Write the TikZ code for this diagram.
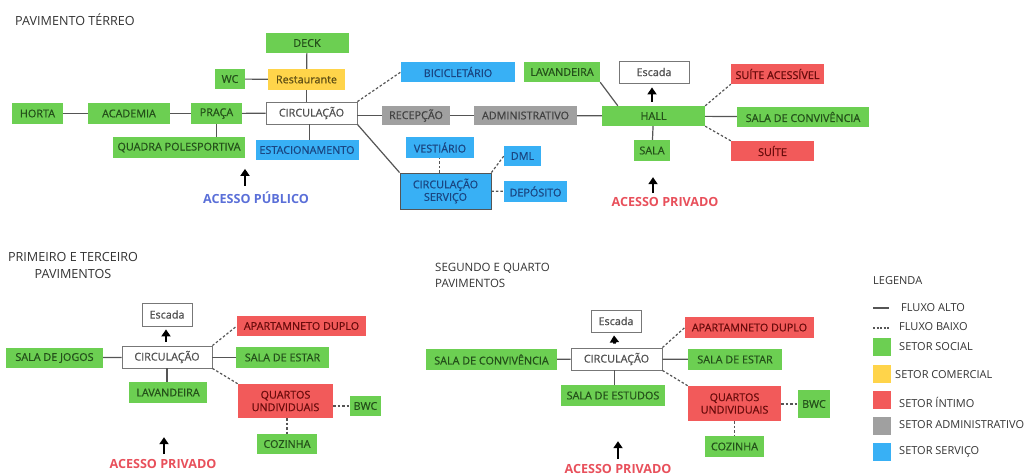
\documentclass[tikz,border=0pt]{standalone}
\usepackage{fontspec}
\setmainfont{Open Sans}
\newfontfamily\boxfont{Open Sans}[FakeBold=0.7]
\usetikzlibrary{arrows.meta}
\definecolor{gfill}{HTML}{6CCF52}
\definecolor{gtext}{HTML}{24501A}
\definecolor{yfill}{HTML}{FFD44A}
\definecolor{ytext}{HTML}{5E4E14}
\definecolor{rfill}{HTML}{F25A5A}
\definecolor{rtext}{HTML}{6A0C0C}
\definecolor{bfill}{HTML}{38B0F5}
\definecolor{btext}{HTML}{1A4682}
\definecolor{afill}{HTML}{A0A0A0}
\definecolor{atext}{HTML}{424242}
\definecolor{wtext}{HTML}{505050}
\definecolor{linec}{HTML}{555555}
\definecolor{pubc}{HTML}{5A6FD8}
\definecolor{privc}{HTML}{E8505B}
\definecolor{headc}{HTML}{333333}
\tikzset{
  box/.style={inner sep=0pt, minimum height=20, font=\boxfont\fontsize{10.8}{12.5}\selectfont, align=center},
  gbox/.style={box, fill=gfill, text=gtext},
  ybox/.style={box, fill=yfill, text=ytext},
  rbox/.style={box, fill=rfill, text=rtext},
  bbox/.style={box, fill=bfill, text=btext},
  abox/.style={box, fill=afill, text=atext},
  wbox/.style={box, fill=white, draw=linec!80, line width=0.8pt, text=wtext},
  hi/.style={draw=linec, line width=1.2pt},
  lo/.style={draw=linec, line width=1.2pt, dash pattern=on 2.5pt off 2pt},
  bigarrow/.style={draw=black, line width=2.8pt, -{Triangle[width=9pt,length=7pt]}},
  head/.style={font=\fontsize{12.6}{16.5}\selectfont, text=headc, inner sep=0pt},
  acc/.style={font=\bfseries\fontsize{12.6}{14}\selectfont, inner sep=0pt},
  leg/.style={font=\fontsize{11}{13}\selectfont, text=headc, inner sep=0pt, anchor=west}
}
\begin{document}
\begin{tikzpicture}[x=1pt,y=-1pt]
\useasboundingbox (0,0) rectangle (1030,475);
% ---------- PAVIMENTO TERREO ----------
\node[head, anchor=west] (h0) at (15,20) {PAVIMENTO TÉRREO};
\node[gbox, minimum width=83] (deck) at (307,43) {DECK};
\node[gbox, minimum width=30] (wc) at (230,79) {WC};
\node[ybox, minimum width=77, minimum height=21] (rest) at (306.5,79.5) {Restaurante};
\node[gbox, minimum width=51, minimum height=21] (horta) at (37.5,113.5) {HORTA};
\node[gbox, minimum width=82, minimum height=21] (acad) at (129,113.5) {ACADEMIA};
\node[gbox, minimum width=51, minimum height=21] (praca) at (216.5,113.5) {PRAÇA};
\node[wbox, minimum width=91, minimum height=22] (circ) at (311.5,113) {CIRCULAÇÃO};
\node[gbox, minimum width=132, minimum height=21] (quadra) at (179,147.5) {QUADRA POLESPORTIVA};
\node[bbox, minimum width=103] (est) at (307,150) {ESTACIONAMENTO};
\node[bbox, minimum width=114] (bici) at (458,72) {BICICLETÁRIO};
\node[gbox, minimum width=76] (lav) at (562,72) {LAVANDEIRA};
\node[abox, minimum width=68, minimum height=19] (recep) at (416,115.5) {RECEPÇÃO};
\node[abox, minimum width=103, minimum height=19] (admin) at (525.5,115.5) {ADMINISTRATIVO};
\node[bbox, minimum width=68, minimum height=21] (vest) at (440,147.5) {VESTIÁRIO};
\node[bbox, minimum width=91, minimum height=36, draw=linec, line width=0.8pt] (cserv) at (445.5,191) {CIRCULAÇÃO\\SERVIÇO};
\node[bbox, minimum width=37] (dml) at (522.5,156) {DML};
\node[bbox, minimum width=63, minimum height=21] (dep) at (535.5,191.5) {DEPÓSITO};
\node[wbox, minimum width=70, minimum height=22] (esc0) at (654,72) {Escada};
\node[gbox, minimum width=103] (hall) at (653.5,116) {HALL};
\node[gbox, minimum width=36, minimum height=21] (sala) at (652,150.5) {SALA};
\node[rbox, minimum width=93] (suitea) at (777.5,74) {SUÍTE ACESSÍVEL};
\node[gbox, minimum width=132] (sconv) at (803,117) {SALA DE CONVIVÊNCIA};
\node[rbox, minimum width=83] (suite) at (772.5,151) {SUÍTE};
\node[acc, text=pubc] (apub) at (256,198) {ACESSO PÚBLICO};
\node[acc, text=privc] (apriv0) at (665,202) {ACESSO PRIVADO};

\draw[hi] (deck) -- (rest);
\draw[hi] (wc) -- (rest);
\draw[hi] (rest.south) -- (rest.south |- circ.north);
\draw[hi] (horta) -- (acad);
\draw[hi] (acad) -- (praca);
\draw[hi] (praca) -- (circ);
\draw[hi] (praca) -- (praca |- quadra.north);
\draw[hi] ([xshift=-2pt]circ.south) -- ([xshift=-2pt]circ.south |- est.north);
\draw[lo] (circ.north east) -- (bici.west);
\draw[hi] (circ.east |- recep) -- (recep);
\draw[hi] (circ.south east) -- (cserv.north west);
\draw[hi] (recep) -- (admin);
\draw[hi] (admin) -- (hall);
\draw[lo] ([xshift=-6pt]cserv.north) -- ([xshift=-6pt]cserv.north |- vest.south);
\draw[lo] (cserv.north east) -- (dml.west);
\draw[lo] (cserv) -- (dep);
\draw[hi] (lav.south east) -- ([xshift=16pt]hall.north west);
\draw[hi] (hall) -- (sala);
\draw[lo] (hall.north east) -- (suitea.south west);
\draw[hi] (hall) -- (sconv);
\draw[lo] (hall.south east) -- (suite.north west);
\draw[bigarrow] ([xshift=-1.5pt,yshift=4pt]hall.north) -- ([xshift=-1.5pt,yshift=-4pt]esc0.south -| hall.north);
\draw[bigarrow] ([xshift=-11pt,yshift=6pt]apub.north) -- ++(0,-17);
\draw[bigarrow] ([xshift=-12pt,yshift=4pt]apriv0.north) -- ++(0,-16);

% ---------- PRIMEIRO E TERCEIRO ----------
\node[head, align=center] (h1) at (73,265.5) {PRIMEIRO E TERCEIRO\\PAVIMENTOS};
\node[wbox, minimum width=50, minimum height=23] (esc1) at (167,314.5) {Escada};
\node[gbox, minimum width=97] (sj1) at (54.5,358) {SALA DE JOGOS};
\node[wbox, minimum width=90, minimum height=22] (circ1) at (167,357) {CIRCULAÇÃO};
\node[gbox, minimum width=78, minimum height=21] (lav1) at (168,392.5) {LAVANDEIRA};
\node[rbox, minimum width=129] (apd1) at (301.5,326) {APARTAMNETO DUPLO};
\node[gbox, minimum width=93, minimum height=21] (se1) at (282.5,357.5) {SALA DE ESTAR};
\node[rbox, minimum width=95, minimum height=34] (q1) at (285.5,401) {QUARTOS\\UNDIVIDUAIS};
\node[gbox, minimum width=31] (bwc1) at (365.5,406) {BWC};
\node[gbox, minimum width=60] (coz1) at (287,444) {COZINHA};
\node[acc, text=privc] (apriv1) at (163,464) {ACESSO PRIVADO};

\draw[hi] (sj1) -- (circ1);
\draw[hi] (circ1.south) -- (circ1.south |- lav1.north);
\draw[hi] (circ1.east |- se1) -- (se1);
\draw[lo] (circ1.north east) -- (apd1.west);
\draw[lo] (circ1.south east) -- (q1.north west);
\draw[lo] (q1.east |- bwc1) -- (bwc1);
\draw[lo] ([xshift=1.5pt]q1.south) -- ([xshift=1.5pt]q1.south |- coz1.north);
\draw[bigarrow] ([xshift=-1pt,yshift=4pt]circ1.north) -- ([xshift=-1pt,yshift=-3pt]esc1.south);
\draw[bigarrow] ([xshift=1pt,yshift=5pt]apriv1.north) -- ++(0,-17);

% ---------- SEGUNDO E QUARTO ----------
\node[head, align=left, anchor=west, font=\fontsize{11.5}{16}\selectfont] (h2) at (435,275) {SEGUNDO E QUARTO\\PAVIMENTOS};
\node[wbox, minimum width=50, minimum height=22] (esc2) at (616,321) {Escada};
\node[gbox, minimum width=131, minimum height=21] (sc2) at (491.5,359.5) {SALA DE CONVIVÊNCIA};
\node[wbox, minimum width=91, minimum height=22] (circ2) at (616.5,359) {CIRCULAÇÃO};
\node[gbox, minimum width=104, minimum height=21] (ses2) at (613,395.5) {SALA DE ESTUDOS};
\node[rbox, minimum width=129, minimum height=21] (apd2) at (749.5,327.5) {APARTAMNETO DUPLO};
\node[gbox, minimum width=94, minimum height=21] (se2) at (735,359.5) {SALA DE ESTAR};
\node[rbox, minimum width=93, minimum height=35] (q2) at (734.5,403.5) {QUARTOS\\UNDIVIDUAIS};
\node[gbox, minimum width=32, minimum height=28] (bwc2) at (814,404) {BWC};
\node[gbox, minimum width=59, minimum height=21] (coz2) at (734.5,446.5) {COZINHA};
\node[acc, text=privc] (apriv2) at (618,469) {ACESSO PRIVADO};

\draw[hi] (sc2) -- (circ2);
\draw[hi] ([xshift=-2pt]circ2.south) -- ([xshift=-2pt]circ2.south |- ses2.north);
\draw[hi] (circ2) -- (se2);
\draw[lo] (circ2.north east) -- (apd2.west);
\draw[lo] (circ2.south east) -- (q2.north west);
\draw[lo] (q2.east |- bwc2) -- (bwc2);
\draw[lo] (q2.south) -- (q2.south |- coz2.north);
\draw[bigarrow] ([xshift=-2pt,yshift=4pt]circ2.north) -- ([xshift=-2pt,yshift=-3pt]esc2.south);
\draw[bigarrow] ([yshift=5pt]apriv2.north) -- ++(0,-18);

% ---------- LEGENDA ----------
\node[leg] (lt) at (873,281) {LEGENDA};
\coordinate (la1) at (873,308);
\coordinate (la2) at (889,308);
\draw[hi, line width=1.2pt] (la1) -- (la2);
\node[leg] (lta) at (901,308) {FLUXO ALTO};
\coordinate (lb1) at (873,328);
\coordinate (lb2) at (889,328);
\draw[lo, line width=1.1pt, dash pattern=on 2pt off 1.5pt] (lb1) -- (lb2);
\node[leg] (ltb) at (899,327) {FLUXO BAIXO};
\node[fill=gfill, minimum size=18, inner sep=0pt] (sq1) at (882,346.5) {};
\node[leg] (lt1) at (899,347) {SETOR SOCIAL};
\node[fill=yfill, minimum size=18, inner sep=0pt] (sq2) at (882,374) {};
\node[leg] (lt2) at (895,375) {SETOR COMERCIAL};
\node[fill=rfill, minimum size=18, inner sep=0pt] (sq3) at (882,399.5) {};
\node[leg] (lt3) at (899,402) {SETOR ÍNTIMO};
\node[fill=afill, minimum size=18, inner sep=0pt] (sq4) at (882,425.5) {};
\node[leg] (lt4) at (899,425) {SETOR ADMINISTRATIVO};
\node[fill=bfill, minimum size=18, inner sep=0pt] (sq5) at (882,451.5) {};
\node[leg] (lt5) at (899,452) {SETOR SERVIÇO};
\end{tikzpicture}
\end{document}
